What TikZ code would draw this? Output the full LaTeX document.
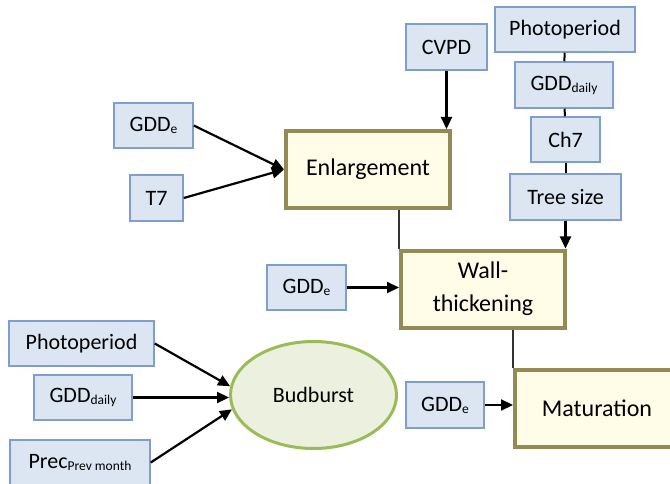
\documentclass[tikz,border=0pt]{standalone}
\usepackage{fontspec}
\setmainfont{Carlito}
\usetikzlibrary{arrows.meta,shapes.geometric}

\definecolor{inputfill}{RGB}{220,230,242}
\definecolor{inputdraw}{RGB}{127,158,203}
\definecolor{procfill}{RGB}{255,253,231}
\definecolor{procdraw}{RGB}{148,138,84}
\definecolor{budfill}{RGB}{235,241,222}
\definecolor{buddraw}{RGB}{155,187,89}

\newcommand{\lowtext}[1]{\raisebox{-2pt}{\fontsize{13.5}{14}\selectfont #1}}

\tikzset{
	input/.style={draw=inputdraw, fill=inputfill, line width=1.5pt, inner sep=0pt, font=\fontsize{22}{26}\selectfont},
	process/.style={draw=procdraw, fill=procfill, line width=4pt, inner sep=0pt, align=center, minimum width=164pt, minimum height=77pt, font=\fontsize{24}{33}\selectfont},
	stage/.style={ellipse, draw=buddraw, fill=budfill, line width=3pt, inner sep=0pt, minimum width=166pt, minimum height=107pt, font=\fontsize{22}{26}\selectfont},
	link/.style={line width=2.2pt, -{Triangle[length=12pt,width=11pt]}},
	chain/.style={line width=2pt},
	joint/.style={line width=1.5pt, black!80}
}

\begin{document}
\begin{tikzpicture}[x=1pt, y=-1pt]
			%%%%% START %%%%%
			\useasboundingbox (0, 0) rectangle (670, 484);
			\clip (0, 0) rectangle (670, 484);
			
			% xylem stages
			\node[process] (enl) at (368, 169.5) {Enlargement};
			\node[process] (wall) at (483, 289) {Wall-\\thickening};
			\node[process] (mat) at (597, 408) {Maturation};
			\node[stage] (bud) at (313.5, 395) {Budburst};
			
			% drivers of enlargement
			\node[input, minimum width=79pt, minimum height=45pt] (gddA) at (153.5, 125.5) {GDD\lowtext{e}};
			\node[input, minimum width=53pt, minimum height=46pt] (tseven) at (156.5, 198) {T7};
			\node[input, minimum width=81pt, minimum height=46pt] (cvpd) at (446.5, 47) {CVPD};
			
			% drivers of wall-thickening
			\node[input, minimum width=140pt, minimum height=45pt] (photoA) at (565, 29.5) {Photoperiod};
			\node[input, minimum width=98pt, minimum height=46pt] (gddB) at (564, 85) {GDD\lowtext{daily}};
			\node[input, minimum width=69pt, minimum height=45pt] (chseven) at (565.5, 139.5) {Ch7};
			\node[input, minimum width=111pt, minimum height=46pt] (tree) at (565.5, 197) {Tree size};
			\node[input, minimum width=79pt, minimum height=45pt] (gddC) at (306.5, 287.5) {GDD\lowtext{e}};
			
			% drivers of maturation
			\node[input, minimum width=78pt, minimum height=46pt] (gddD) at (445, 405) {GDD\lowtext{e}};
			
			% drivers of budburst
			\node[input, minimum width=145pt, minimum height=45pt] (photoB) at (81.5, 343.5) {Photoperiod};
			\node[input, minimum width=98pt, minimum height=45pt] (gddE) at (83, 397.5) {GDD\lowtext{daily}};
			\node[input, minimum width=140pt, minimum height=45pt] (prec) at (80, 462.5) {Prec\lowtext{Prev month}};
			
			% connectors
			\draw[link] (gddA.east) -- (enl.west);
			\draw[link] (tseven.east) -- (enl.west);
			\draw[link] (cvpd.south) -- (cvpd.south |- enl.north);
			
			\draw[chain] (photoA) -- (gddB);
			\draw[chain] (gddB) -- (chseven);
			\draw[chain] (chseven) -- (tree);
			\draw[link] (tree.south) -- (tree.south |- wall.north);
			\draw[link] (gddC.east) -- (wall.west |- gddC.east);
			\draw[joint] (enl.south -| wall.north west) -- (wall.north west);
			
			\draw[link] (gddD.east) -- (mat.west |- gddD.east);
			\draw[joint] (wall.south -| mat.north west) -- (mat.north west);
			
			\draw[link] (photoB.east) -- (bud.174);
			\draw[link] (gddE.east) -- (gddE.east -| bud.west);
			\draw[link] (prec.east) -- (bud.190);
			%%%%% END %%%%%
\end{tikzpicture}
\end{document}
